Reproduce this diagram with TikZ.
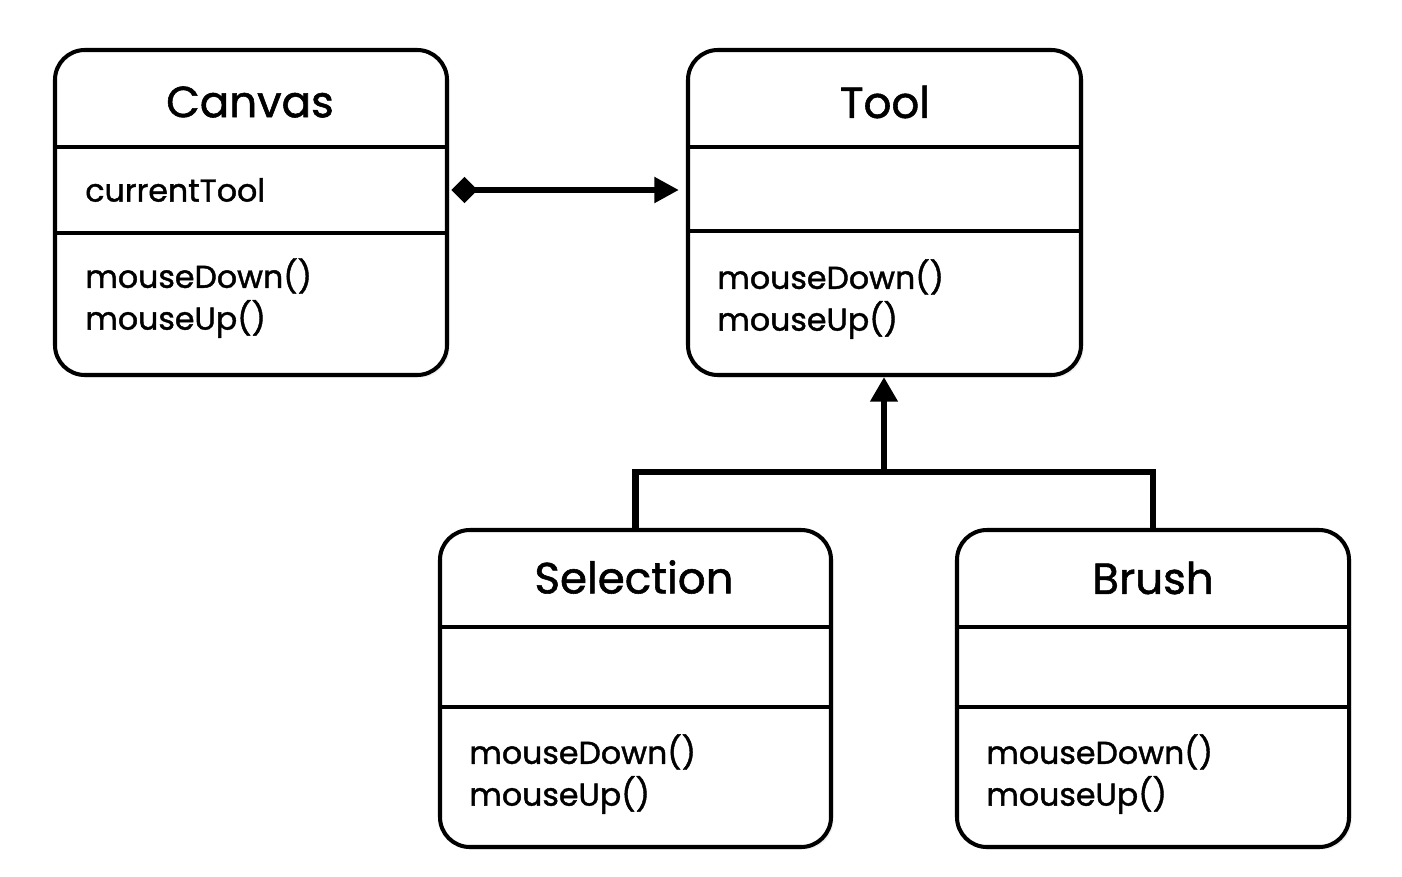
\documentclass[tikz,border=0pt]{standalone}
\usepackage{fontspec}
\setmainfont{Poppins}
\newfontfamily\umlfont{Poppins}[FakeBold=1.3]
\usetikzlibrary{fit,arrows.meta,shadows}
\tikzset{
  umlbox/.style={draw=black, line width=2.3pt, rounded corners=17pt, fill=white, inner sep=0pt,
    drop shadow={opacity=0.12, shadow xshift=1.5pt, shadow yshift=-1.5pt}},
  divider/.style={line width=1.8pt},
  title/.style={font=\umlfont\fontsize{24.8}{28}\selectfont, anchor=center, inner sep=0pt},
  member/.style={font=\umlfont\fontsize{18}{22}\selectfont, anchor=west, inner sep=0pt},
  conn/.style={line width=3.6pt},
}
\begin{document}
\begin{tikzpicture}[x=0.02cm,y=-0.02cm]
\useasboundingbox (0,0) rectangle (1402,876);
% boxes
\node[umlbox, fit={(55,50) (447,375)}] (canvas) {};
\node[umlbox, fit={(688,50) (1081,375)}] (tool) {};
\node[umlbox, fit={(440,530) (831,847)}] (sel) {};
\node[umlbox, fit={(957,530) (1349,847)}] (brush) {};
% dividers
\draw[divider] (canvas.west |- 0,147) -- (canvas.east |- 0,147);
\draw[divider] (canvas.west |- 0,233) -- (canvas.east |- 0,233);
\draw[divider] (tool.west |- 0,147) -- (tool.east |- 0,147);
\draw[divider] (tool.west |- 0,231) -- (tool.east |- 0,231);
\draw[divider] (sel.west |- 0,627) -- (sel.east |- 0,627);
\draw[divider] (sel.west |- 0,707) -- (sel.east |- 0,707);
\draw[divider] (brush.west |- 0,627) -- (brush.east |- 0,627);
\draw[divider] (brush.west |- 0,707) -- (brush.east |- 0,707);
% texts
\node[title] (tcanvas) at (250,102) {Canvas};
\node[member] (ct) at (85,190) {currentTool};
\node[member] (cm1) at (85,276) {mouseDown()};
\node[member] (cm2) at (85,319) {mouseUp()};
\node[title] (ttool) at (885,102) {Tool};
\node[member] (tm1) at (717,277) {mouseDown()};
\node[member] (tm2) at (717,320) {mouseUp()};
\node[title] (tsel) at (634,577) {Selection};
\node[member] (sm1) at (469,752) {mouseDown()};
\node[member] (sm2) at (469,795) {mouseUp()};
\node[title] (tbrush) at (1153,578) {Brush};
\node[member] (bm1) at (986,752) {mouseDown()};
\node[member] (bm2) at (986,795) {mouseUp()};
% composition
\draw[conn, {Diamond[length=15pt,width=15pt]}-{Triangle[length=14pt,width=14pt]}, shorten <=1.3pt, shorten >=4pt]
  (canvas.east |- ct.west) -- (tool.west |- ct.west);
% inheritance
\coordinate (join) at (884,472);
\draw[conn] (sel.north) |- (join) -| (brush.north);
\draw[conn, -{Triangle[length=14pt,width=15pt]}] (join) -- (join |- tool.south);
\end{tikzpicture}
\end{document}
